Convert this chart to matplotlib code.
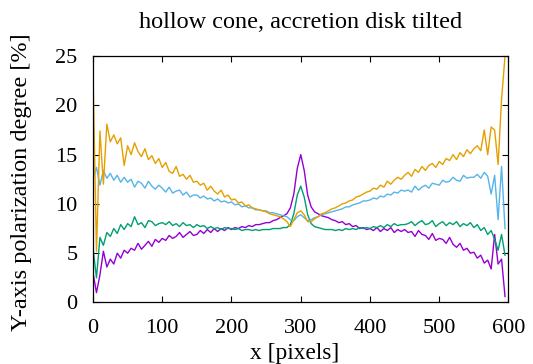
import matplotlib
matplotlib.use("Agg")
import matplotlib.pyplot as plt

plt.rcParams.update({
    "font.family": ["Liberation Serif", "DejaVu Serif"],
    "axes.linewidth": 0.9,
    "xtick.direction": "in",
    "ytick.direction": "in",
    "xtick.top": True,
    "ytick.right": True,
})

# x position along the detector, sampled every 5 pixels
x_pix = list(range(0, 600, 5))

# polarization degree [%]
pol_orange = [
    23.3, 5.2, 17.4, 12.0, 18.1, 16.3, 17.0, 16.1, 16.7, 13.9,
    15.9, 15.0, 16.2, 15.3, 14.8, 15.6, 14.5, 14.9, 14.1, 14.6,
    13.7, 14.2, 13.3, 13.1, 13.8, 12.8, 13.0, 12.5, 12.9, 12.2,
    12.3, 11.9, 12.1, 11.4, 11.8, 11.3, 11.0, 11.4, 10.7, 10.9,
    10.4, 10.5, 10.1, 10.2, 9.8, 9.9, 9.6, 9.5, 9.4, 9.3,
    9.2, 9.0, 8.9, 8.8, 8.7, 8.5, 8.2, 7.7, 8.4, 9.1,
    9.3, 8.9, 8.2, 8.2, 8.5, 8.7, 9.0, 9.1, 9.3, 9.5,
    9.6, 9.8, 10.0, 10.1, 10.3, 10.4, 10.7, 10.8, 11.0, 11.2,
    11.3, 11.6, 11.5, 11.9, 11.7, 12.3, 12.0, 12.4, 12.7, 12.5,
    12.9, 13.2, 12.8, 13.5, 13.2, 13.8, 13.4, 13.9, 14.1, 13.7,
    14.3, 14.0, 14.6, 14.4, 15.0, 14.5, 15.2, 14.8, 15.5, 15.1,
    15.6, 15.9, 15.4, 17.5, 15.0, 17.8, 17.5, 14.0, 20.6, 25.0,
]
pol_blue = [
    12.5, 13.7, 11.9, 13.4, 12.6, 13.1, 12.4, 12.9, 12.2, 12.7,
    12.2, 12.5, 11.7, 12.3, 12.1, 11.6, 12.3, 11.8, 11.5, 11.9,
    11.6, 11.2, 11.7, 11.1, 11.3, 11.4, 10.9, 11.2, 10.7, 10.9,
    10.9, 10.6, 10.8, 10.5, 10.6, 10.3, 10.5, 10.2, 10.3, 10.1,
    10.2, 9.9, 10.0, 9.7, 9.8, 9.6, 9.6, 9.4, 9.4, 9.3,
    9.3, 9.1, 9.1, 9.0, 8.9, 8.8, 8.7, 8.4, 8.3, 8.7,
    8.9, 8.6, 8.3, 8.4, 8.6, 8.7, 8.9, 9.0, 9.1, 9.2,
    9.3, 9.4, 9.5, 9.7, 9.7, 9.9, 10.0, 10.1, 10.3, 10.3,
    10.4, 10.6, 10.5, 10.8, 10.7, 11.0, 10.9, 11.2, 11.1, 11.4,
    11.3, 11.4, 11.2, 11.8, 11.4, 11.7, 11.9, 11.6, 12.1, 12.0,
    11.9, 12.4, 12.2, 12.3, 12.7, 12.4, 12.3, 12.9, 12.6, 12.7,
    12.7, 13.0, 12.6, 13.2, 12.8, 11.0, 12.9, 8.4, 13.8, 7.5,
]
pol_green = [
    5.5, 2.5, 6.6, 5.8, 7.1, 6.7, 7.5, 7.0, 7.9, 7.4,
    8.0, 7.7, 8.7, 7.9, 8.1, 7.6, 8.3, 8.2, 7.8, 8.0,
    8.1, 7.9, 8.2, 7.8, 8.0, 7.7, 8.1, 7.8, 7.9, 7.6,
    7.9, 7.7, 7.8, 7.5, 7.7, 7.5, 7.6, 7.4, 7.6, 7.5,
    7.5, 7.4, 7.5, 7.3, 7.4, 7.4, 7.3, 7.4, 7.3, 7.4,
    7.4, 7.4, 7.5, 7.5, 7.5, 7.6, 7.6, 7.9, 9.0, 10.9,
    11.8, 10.7, 8.9, 8.0, 7.7, 7.6, 7.5, 7.4, 7.4, 7.4,
    7.3, 7.4, 7.3, 7.5, 7.4, 7.5, 7.4, 7.6, 7.5, 7.6,
    7.5, 7.7, 7.6, 7.8, 7.6, 7.9, 7.7, 8.0, 7.8, 7.9,
    7.9, 8.0, 8.2, 7.8, 8.1, 8.3, 7.9, 8.0, 8.3, 7.7,
    8.0, 8.2, 7.8, 8.1, 7.9, 8.2, 7.7, 8.0, 7.8, 8.1,
    7.6, 7.9, 7.3, 7.6, 6.9, 7.3, 6.4, 5.3, 6.9, 4.8,
]
pol_purple = [
    3.0, 1.0, 2.8, 5.2, 3.6, 4.4, 3.9, 5.0, 4.5, 5.3,
    5.0, 5.5, 5.3, 6.0, 5.4, 5.8, 6.2, 5.7, 6.4, 6.1,
    6.5, 6.3, 6.8, 6.5, 6.7, 7.1, 6.6, 6.9, 7.2, 6.8,
    6.9, 7.3, 7.0, 7.4, 7.1, 7.5, 7.2, 7.5, 7.3, 7.6,
    7.4, 7.6, 7.5, 7.7, 7.6, 7.8, 7.7, 7.9, 7.9, 8.0,
    8.1, 8.1, 8.3, 8.4, 8.6, 8.8, 9.0, 9.6, 11.0, 13.6,
    15.0, 13.4, 10.9, 9.7, 9.2, 9.0, 8.8, 8.7, 8.6, 8.4,
    8.3, 8.1, 8.2, 7.9, 8.0, 7.7, 7.8, 7.5, 7.6, 7.4,
    7.5, 7.3, 7.6, 7.2, 7.5, 7.3, 7.6, 7.1, 7.4, 7.2,
    7.4, 7.1, 7.2, 6.7, 7.3, 6.9, 6.8, 6.4, 7.0, 6.3,
    6.5, 6.4, 6.0, 6.6, 5.9, 5.6, 6.0, 5.3, 5.5, 5.0,
    5.1, 4.5, 4.8, 4.0, 4.3, 3.4, 6.9, 3.9, 4.4, 0.6,
]

fig = plt.figure(figsize=(5.33, 3.64), dpi=100)
ax = fig.add_axes([0.1745, 0.169, 0.7795, 0.677])

ax.plot(x_pix, pol_purple, color="#9400D3", lw=1.0)
ax.plot(x_pix, pol_green, color="#009E73", lw=1.0)
ax.plot(x_pix, pol_blue, color="#56B4E9", lw=1.0)
ax.plot(x_pix, pol_orange, color="#E69F00", lw=1.0)

ax.set_xlim(0, 600)
ax.set_ylim(0, 25)
ax.set_xticks([0, 100, 200, 300, 400, 500, 600])
ax.set_yticks([0, 5, 10, 15, 20, 25])
ax.tick_params(labelsize=16, length=4, width=0.8)
ax.tick_params(axis="x", pad=12)
ax.tick_params(axis="y", pad=11)

fig.text(0.563, 0.923, "hollow cone, accretion disk tilted",
         fontsize=17.5, ha="center", va="baseline")
ax.set_xlabel("x [pixels]", fontsize=16.8)
ax.xaxis.set_label_coords(0.486, -0.164)
ax.set_ylabel("Y-axis polarization degree [%]", fontsize=17.5)
ax.yaxis.set_label_coords(-0.147, 0.49)

fig.savefig("out.png", dpi=100)
